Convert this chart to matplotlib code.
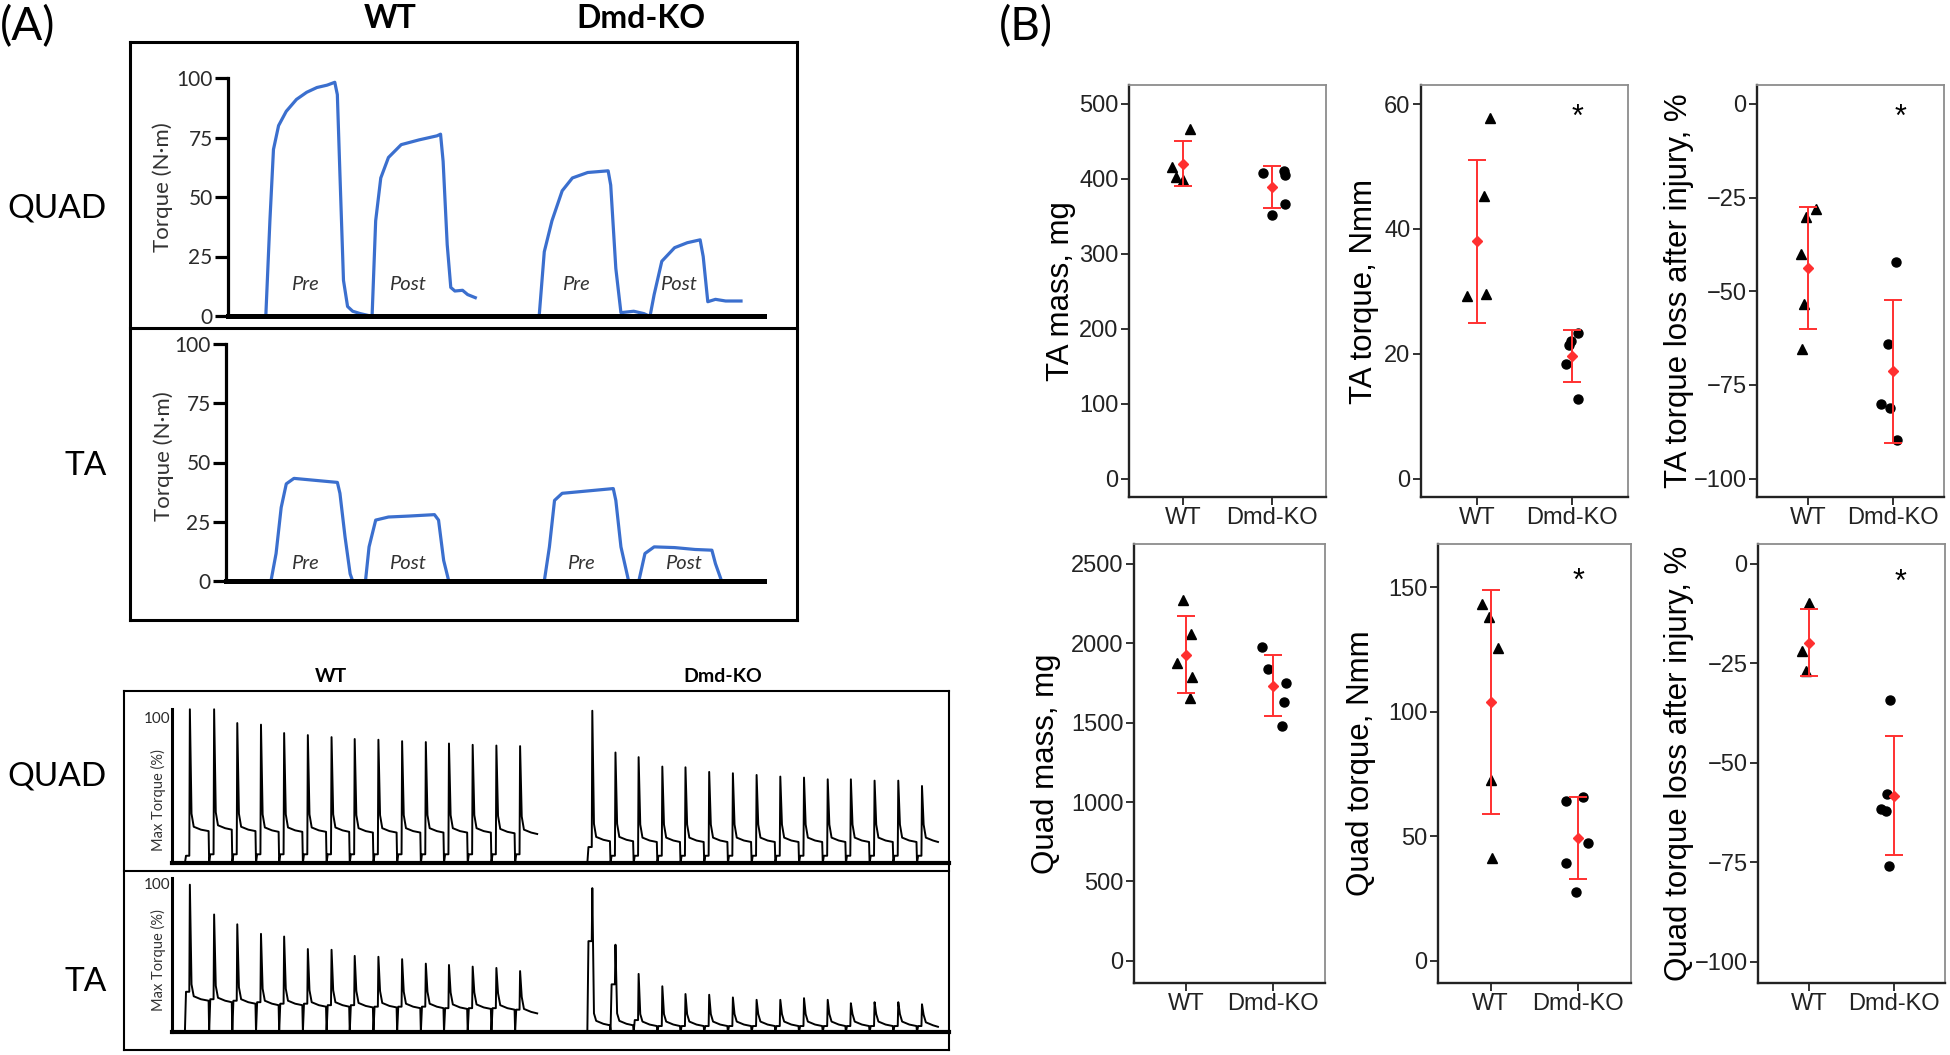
import numpy as np
import matplotlib.pyplot as plt
from matplotlib.lines import Line2D

plt.rcParams['font.family'] = ['Liberation Sans', 'DejaVu Sans']
FONT_A = ['Lato', 'DejaVu Sans']

W, H = 1950, 1055
BLUE = '#3b6fce'
RED = '#ff3030'

# ---------------- panel A: single contraction traces (time units, torque N.m)
quad_wt_pre_t = [520, 528, 535, 545, 560, 580, 600, 620, 640, 655, 660, 665, 672, 680, 690, 705, 725]
quad_wt_pre_v = [0, 40, 70, 80, 86, 91, 94, 96, 97, 98.2, 93, 60, 15, 4, 2, 1, 0]
quad_wt_post_t = [728, 735, 745, 760, 785, 820, 855, 862, 867, 875, 882, 890, 905, 915, 930]
quad_wt_post_v = [0, 40, 58, 66.6, 72, 74, 75.7, 76.4, 65, 30, 12, 10.5, 10.8, 9, 7.7]
quad_ko_pre_t = [1055, 1065, 1080, 1100, 1120, 1150, 1190, 1195, 1205, 1215, 1240, 1260, 1270]
quad_ko_pre_v = [0, 27, 40, 52.6, 58, 60.3, 61, 55, 20, 1.4, 2, 1, 0]
quad_ko_post_t = [1272, 1280, 1295, 1320, 1345, 1370, 1376, 1385, 1400, 1420, 1450]
quad_ko_post_v = [0, 9, 23, 28.7, 30.8, 32, 25, 6, 7, 6.3, 6.3]

ta_wt_pre_t = [530, 540, 550, 560, 575, 610, 660, 665, 675, 685, 690]
ta_wt_pre_v = [0, 11.6, 31, 41, 43.3, 42.6, 41.6, 37, 18.6, 3, 0]
ta_wt_post_t = [715, 722, 735, 760, 800, 850, 858, 868, 878]
ta_wt_post_v = [0, 14.4, 25.7, 27, 27.4, 28, 25.7, 8.7, 0]
ta_ko_pre_t = [1065, 1075, 1085, 1100, 1150, 1200, 1205, 1215, 1230]
ta_ko_pre_v = [0, 14.4, 34, 37, 38, 39, 34, 14.4, 0]
ta_ko_post_t = [1250, 1262, 1280, 1320, 1360, 1393, 1400, 1412, 1440]
ta_ko_post_v = [0, 11.6, 14.4, 14.1, 13.3, 13, 7.3, 0, 0]

phase_labels = ["Pre", "Post", "Pre", "Post"]
quad_label_t = [597, 797, 1127, 1328]
ta_label_t = [597, 797, 1137, 1338]

# ---------------- panel A: fatigue protocol (max torque %)
fat_x_wt = [163, 207, 249, 292, 334, 377, 420, 462, 505, 548, 591, 633, 676, 719, 762]
fat_x_ko = [893, 935, 977, 1020, 1062, 1105, 1148, 1191, 1234, 1277, 1320, 1362, 1405, 1448, 1491]
fat_tail_wt, fat_tail_ko = 793, 1520

fq_wt_peak = [106, 106, 96.5, 95.4, 89.6, 88.2, 86.8, 85.5, 85, 84, 83.4, 82.4, 81.5, 81, 80.6]
fq_wt_plat = [22, 23, 22, 21.5, 21.5, 21.5, 21.5, 21, 21, 21, 21, 21, 21, 20.5, 20]
fq_wt_shoulder = [5, 6, 6, 6, 6, 6, 6, 6, 6, 6, 6, 6, 6, 6, 6]
fq_ko_peak = [105, 76.2, 73, 66.5, 66, 62.8, 61.9, 60.7, 59.6, 58.9, 57.7, 57.7, 56.8, 56.8, 53.1]
fq_ko_plat = [15, 15, 14.5, 14.5, 14.5, 14.5, 14.5, 14.5, 14.5, 14.5, 14.5, 14.5, 14.5, 14.5, 14.5]
fq_ko_shoulder = [11, 5, 5, 5, 5, 5, 5, 5, 5, 5, 5, 5, 5, 5, 5]

ft_wt_peak = [98.9, 78.9, 72.3, 65.9, 64.1, 55.7, 55.2, 51.1, 50.5, 48.9, 45.9, 45, 43.9, 43, 40.9]
ft_wt_plat = [21, 20, 19, 18, 18, 17, 17, 16.5, 16.5, 16, 16, 15.5, 15.5, 15, 12.5]
ft_wt_shoulder = [27, 22, 21, 20, 19, 19, 18, 18, 17, 17, 17, 16, 16, 16, 15]
ft_ko_peak = [96.6, 58.6, 39, 30.7, 25.5, 25, 23.2, 21.6, 21.6, 22.7, 21.6, 19.3, 20, 20, 18.6]
ft_ko_plat = [4.5, 4.5, 4, 4, 4, 4, 4, 4, 4, 4, 4, 4, 4, 4, 3.5]
ft_ko_shoulder = [61, 32, 8, 4, 4, 4, 4, 4, 4, 4, 4, 4, 4, 4, 4]

# ---------------- panel B: individual animals and mean +/- SD
groups = ["WT", "Dmd-KO"]

ta_mass_wt = [416, 402, 399, 466]
ta_mass_wt_jit = [-0.115, -0.07, 0.0, 0.08]
ta_mass_ko = [408, 410, 405, 367, 352]
ta_mass_ko_jit = [-0.10, 0.13, 0.14, 0.14, 0.0]
ta_mass_mean, ta_mass_sd = [420, 389], [30, 27.7]

ta_torque_wt = [57.8, 45.2, 29.2, 29.5]
ta_torque_wt_jit = [0.135, 0.07, -0.115, 0.09]
ta_torque_ko = [23.4, 22.0, 21.4, 18.3, 12.8]
ta_torque_ko_jit = [0.07, -0.01, -0.03, -0.06, 0.07]
ta_torque_mean, ta_torque_sd = [38.0, 19.6], [13.05, 4.2]

ta_loss_wt = [-27.9, -30.2, -40.0, -53.4, -65.4]
ta_loss_wt_jit = [0.09, -0.02, -0.08, -0.05, -0.07]
ta_loss_ko = [-42.1, -64.0, -80.2, -81.1, -89.8]
ta_loss_ko_jit = [0.035, -0.06, -0.14, -0.03, 0.05]
ta_loss_mean, ta_loss_sd = [-43.8, -71.4], [16.2, 19.05]

quad_mass_wt = [2273, 2059, 1878, 1790, 1653]
quad_mass_wt_jit = [-0.03, 0.06, -0.1, 0.07, 0.04]
quad_mass_ko = [1975, 1836, 1752, 1630, 1481]
quad_mass_ko_jit = [-0.12, -0.06, 0.15, 0.13, 0.1]
quad_mass_mean, quad_mass_sd = [1929, 1733], [243.5, 191]

quad_torque_wt = [143.3, 138.0, 125.6, 72.4, 41.1]
quad_torque_wt_jit = [-0.1, -0.02, 0.08, 0.0, 0.02]
quad_torque_ko = [65.8, 64.3, 47.1, 39.4, 27.7]
quad_torque_ko_jit = [0.05, -0.14, 0.11, -0.14, -0.03]
quad_torque_mean, quad_torque_sd = [104, 49.2], [45, 16.6]

quad_loss_wt = [-9.7, -21.8, -26.8]
quad_loss_wt_jit = [0.0, -0.08, -0.04]
quad_loss_ko = [-34.2, -57.8, -61.7, -62.1, -75.9]
quad_loss_ko_jit = [-0.05, -0.08, -0.15, -0.1, -0.06]
quad_loss_mean, quad_loss_sd = [-19.8, -58.3], [8.5, 15]

star_x_off = [0.06, 0.085, 0.0, 0.08]
star_y = [58.3, -2.8, 153.6, -3.9]


fig = plt.figure(figsize=(W / 100, H / 100), dpi=100)


def px_axes(l, t, r, b):
    return fig.add_axes([l / W, 1 - b / H, (r - l) / W, (b - t) / H])


def fig_line(x0, y0, x1, y1, lw):
    fig.add_artist(Line2D([x0 / W, x1 / W], [1 - y0 / H, 1 - y1 / H],
                          transform=fig.transFigure, color='black', lw=lw,
                          solid_capstyle='projecting'))


def fig_text(x, y, s, **kw):
    fig.text(x / W, 1 - y / H, s, **kw)


def box(l, t, r, b, mid, lw):
    fig_line(l, t, r, t, lw)
    fig_line(l, b, r, b, lw)
    fig_line(l, t, l, b, lw)
    fig_line(r, t, r, b, lw)
    fig_line(l, mid, r, mid, lw)


def style_trace_axes(ax, xlim, ylim, yticks, lsize, tick_len, lw_left, lw_bottom):
    ax.set_xlim(*xlim)
    ax.set_ylim(*ylim)
    for s in ['top', 'right']:
        ax.spines[s].set_visible(False)
    ax.spines['left'].set_linewidth(lw_left)
    ax.spines['bottom'].set_linewidth(lw_bottom)
    ax.set_xticks([])
    ax.set_yticks(yticks)
    ax.tick_params(axis='y', direction='out', length=tick_len, width=lw_left,
                   labelsize=lsize, pad=1.5, labelcolor='#2a2a2a')
    for lab in ax.get_yticklabels():
        lab.set_fontfamily(FONT_A)
    ax.patch.set_alpha(0)


# ---------------- panel A, top box
fig_text(0, 27, "(A)", fontsize=33, family=FONT_A, va='center', ha='left')
fig_text(390, 19, "WT", fontsize=23, family=FONT_A, weight='bold', ha='center', va='center')
fig_text(641, 19, "Dmd-KO", fontsize=23, family=FONT_A, weight='bold', ha='center', va='center')
box(130, 42, 797, 620, 328, 2.2)
fig_text(107, 208, "QUAD", fontsize=24, family=FONT_A, ha='right', va='center')
fig_text(107, 466, "TA", fontsize=24, family=FONT_A, ha='right', va='center')

ax_q = px_axes(228, 78, 764, 316)
for t, v in [(quad_wt_pre_t, quad_wt_pre_v), (quad_wt_post_t, quad_wt_post_v),
             (quad_ko_pre_t, quad_ko_pre_v), (quad_ko_post_t, quad_ko_post_v)]:
    ax_q.plot(t, v, color=BLUE, lw=2.3, clip_on=False)
for s, t in zip(phase_labels, quad_label_t):
    ax_q.text(t, 13.3, s, fontsize=14.5, style='italic', family=FONT_A,
              color='#333333', ha='center', va='center')
style_trace_axes(ax_q, (446, 1495), (0, 100), [0, 25, 50, 75, 100], 15, 9.5, 2.3, 3.6)
fig_text(163, 187, "Torque (N·m)", fontsize=16, family=FONT_A, rotation=90,
         ha='center', va='center', color='#333333')

ax_t = px_axes(226, 344, 764, 581)
for t, v in [(ta_wt_pre_t, ta_wt_pre_v), (ta_wt_post_t, ta_wt_post_v),
             (ta_ko_pre_t, ta_ko_pre_v), (ta_ko_post_t, ta_ko_post_v)]:
    ax_t.plot(t, v, color=BLUE, lw=2.3, clip_on=False)
for s, t in zip(phase_labels, ta_label_t):
    ax_t.text(t, 7.3, s, fontsize=14.5, style='italic', family=FONT_A,
              color='#333333', ha='center', va='center')
style_trace_axes(ax_t, (442, 1495), (0, 100), [0, 25, 50, 75, 100], 15, 9.5, 2.3, 3.6)
fig_text(164, 456, "Torque (N·m)", fontsize=16, family=FONT_A, rotation=90,
         ha='center', va='center', color='#333333')


# ---------------- panel A, fatigue box
def spike_train(xs, peaks, plats, shoulders, tail_x, bump_off):
    px, py = [], []
    for i, x0 in enumerate(xs):
        xend = xs[i + 1] if i + 1 < len(xs) else tail_x + 10
        pl = plats[i]
        px += [x0 - 9, x0 - 7, x0 - 1, x0, x0 + 3, x0 + 7, x0 + 20, xend - 10]
        py += [0, shoulders[i], shoulders[i], peaks[i], pl + bump_off,
               pl + 3, pl + 1, pl]
    px.append(tail_x)
    py.append(plats[-1])
    return px, py


fig_text(331, 677, "WT", fontsize=14, family=FONT_A, weight='bold', ha='center', va='center')
fig_text(723, 677, "Dmd-KO", fontsize=14, family=FONT_A, weight='bold', ha='center', va='center')
box(124, 691, 949, 1050, 871, 1.5)
fig_text(107, 777, "QUAD", fontsize=24, family=FONT_A, ha='right', va='center')
fig_text(107, 982, "TA", fontsize=24, family=FONT_A, ha='right', va='center')

ax_fq = px_axes(172, 709, 949, 863)
for xs, pk, pl, sh, tx, bo in [(fat_x_wt, fq_wt_peak, fq_wt_plat, fq_wt_shoulder, fat_tail_wt, 12),
                               (fat_x_ko, fq_ko_peak, fq_ko_plat, fq_ko_shoulder, fat_tail_ko, 12)]:
    x, y = spike_train(xs, pk, pl, sh, tx, bo)
    ax_fq.plot(x, y, color='black', lw=1.4, clip_on=False)
style_trace_axes(ax_fq, (130.6, 1540), (0, 106.2), [100], 11, 0, 2.2, 3.0)
fig_text(158, 800, "Max Torque (%)", fontsize=10.5, family=FONT_A, rotation=90,
         ha='center', va='center', color='#333333')

ax_ft = px_axes(172, 878, 949, 1032)
for xs, pk, pl, sh, tx, bo in [(fat_x_wt, ft_wt_peak, ft_wt_plat, ft_wt_shoulder, fat_tail_wt, 11),
                               (fat_x_ko, ft_ko_peak, ft_ko_plat, ft_ko_shoulder, fat_tail_ko, 8)]:
    x, y = spike_train(xs, pk, pl, sh, tx, bo)
    ax_ft.plot(x, y, color='black', lw=1.4, clip_on=False)
style_trace_axes(ax_ft, (130.6, 1540), (0, 103.4), [100], 11, 0, 2.2, 3.0)
fig_text(158, 960, "Max Torque (%)", fontsize=10.5, family=FONT_A, rotation=90,
         ha='center', va='center', color='#333333')

# ---------------- panel B
fig_text(999, 27, "(B)", fontsize=33, family=FONT_A, va='center', ha='left')

panels = [
    dict(rect=(1129, 85, 1326, 497), wt=ta_mass_wt, wtj=ta_mass_wt_jit, ko=ta_mass_ko,
         koj=ta_mass_ko_jit, mean=ta_mass_mean, sd=ta_mass_sd, ylim=(-24, 525),
         yticks=[0, 100, 200, 300, 400, 500], ylabel="TA mass, mg", lx=1061, star=None),
    dict(rect=(1421, 85, 1628, 497), wt=ta_torque_wt, wtj=ta_torque_wt_jit, ko=ta_torque_ko,
         koj=ta_torque_ko_jit, mean=ta_torque_mean, sd=ta_torque_sd, ylim=(-2.95, 63.05),
         yticks=[0, 20, 40, 60], ylabel="TA torque, Nmm", lx=1364, star=0),
    dict(rect=(1757, 85, 1944, 497), wt=ta_loss_wt, wtj=ta_loss_wt_jit, ko=ta_loss_ko,
         koj=ta_loss_ko_jit, mean=ta_loss_mean, sd=ta_loss_sd, ylim=(-104.9, 5.07),
         yticks=[-100, -75, -50, -25, 0], ylabel="TA torque loss after injury, %", lx=1679, star=1),
    dict(rect=(1134, 544, 1325, 983), wt=quad_mass_wt, wtj=quad_mass_wt_jit, ko=quad_mass_ko,
         koj=quad_mass_ko_jit, mean=quad_mass_mean, sd=quad_mass_sd, ylim=(-140, 2626),
         yticks=[0, 500, 1000, 1500, 2000, 2500], ylabel="Quad mass, mg", lx=1046, star=None),
    dict(rect=(1438, 544, 1631, 983), wt=quad_torque_wt, wtj=quad_torque_wt_jit, ko=quad_torque_ko,
         koj=quad_torque_ko_jit, mean=quad_torque_mean, sd=quad_torque_sd, ylim=(-9, 167.4),
         yticks=[0, 50, 100, 150], ylabel="Quad torque, Nmm", lx=1361, star=2),
    dict(rect=(1758, 544, 1945, 983), wt=quad_loss_wt, wtj=quad_loss_wt_jit, ko=quad_loss_ko,
         koj=quad_loss_ko_jit, mean=quad_loss_mean, sd=quad_loss_sd, ylim=(-105.4, 5.03),
         yticks=[-100, -75, -50, -25, 0], ylabel="Quad torque loss after injury, %", lx=1679, star=3),
]

for p in panels:
    l, t, r, b = p['rect']
    ax = px_axes(l, t, r, b)
    ax.plot(1 + np.array(p['wtj']), p['wt'], linestyle='none', marker='^',
            ms=7.5, color='black', zorder=3)
    ax.plot(2 + np.array(p['koj']), p['ko'], linestyle='none', marker='o',
            ms=6.5, color='black', zorder=3)
    ax.errorbar([1, 2], p['mean'], yerr=p['sd'], fmt='D', ms=5, color=RED,
                ecolor=RED, elinewidth=1.4, capsize=6.5, capthick=1.4, zorder=4)
    if p['star'] is not None:
        k = p['star']
        ax.text(2 + star_x_off[k], star_y[k], "*", fontsize=22, ha='center',
                va='center_baseline', color='black')
    ax.set_xlim(0.4, 2.6)
    ax.set_ylim(*p['ylim'])
    ax.set_xticks([1, 2])
    ax.set_xticklabels(groups)
    ax.set_yticks(p['yticks'])
    ax.tick_params(direction='out', length=5.5, width=1.3, labelsize=17,
                   pad=2, labelcolor='#222222', color='#222222')
    ax.spines['left'].set_linewidth(1.7)
    ax.spines['bottom'].set_linewidth(1.7)
    ax.spines['left'].set_color('#222222')
    ax.spines['bottom'].set_color('#222222')
    for s in ['top', 'right']:
        ax.spines[s].set_linewidth(1.3)
        ax.spines[s].set_color('#8c8c8c')
    fig_text(p['lx'], (t + b) / 2, p['ylabel'], fontsize=22.5, rotation=90,
             ha='center', va='center', color='black')

fig.savefig("out.png", dpi=100)
